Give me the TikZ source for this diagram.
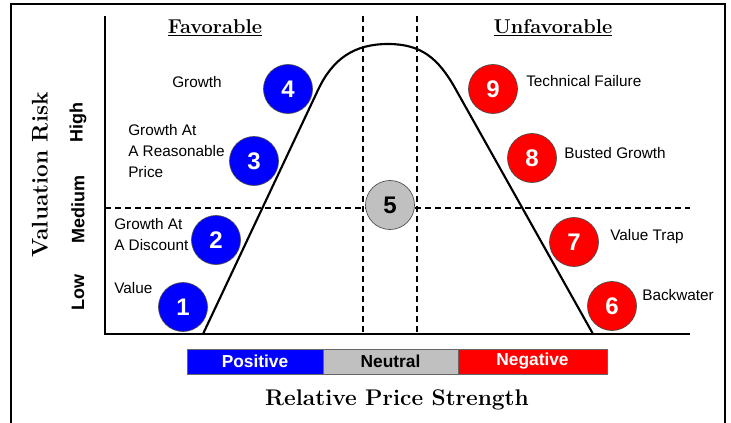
\documentclass[tikz,border=0pt]{standalone}
\usepackage{fontspec}
\newfontfamily\arialfont{Liberation Sans}
\usepackage{tikz}
\definecolor{favblue}{RGB}{0,0,255}
\definecolor{unfavred}{RGB}{255,0,0}
\definecolor{neutralgray}{RGB}{192,192,192}

\begin{document}
\begin{tikzpicture}[x=0.75pt,y=0.75pt,yscale=-1,xscale=1,
  stage/.style={circle,draw=black!70,line width=0.5pt,minimum size=36.75pt,inner sep=0pt,
    font=\arialfont\bfseries\fontsize{18}{18}\selectfont,text=white},
  stagelabel/.style={anchor=west,inner sep=0pt,align=left,
    font=\arialfont\fontsize{11.5}{15.75}\selectfont},
  risklevel/.style={rotate=90,inner sep=0pt,font=\arialfont\bfseries\fontsize{13.5}{13.5}\selectfont},
  heading/.style={inner sep=0pt,font=\bfseries\fontsize{15}{15}\selectfont},
  axistitle/.style={inner sep=0pt,font=\bfseries\fontsize{17}{17}\selectfont},
  strength/.style={draw=black!60,line width=0.5pt,minimum width=102pt,minimum height=18.75pt,
    inner sep=0pt,font=\arialfont\bfseries\fontsize{13}{13}\selectfont},
  divider/.style={line width=1.1pt,dash pattern=on 4.5pt off 3pt}]
\useasboundingbox (0,0) rectangle (731,422);

%Shape: Frame
\draw [line width=1.5pt] (11,430) -- (11,3.5) -- (725,3.5) -- (725,430) ;

%Shape: Axes
\draw [line width=1pt] (105,16) -- (105,334) -- (690,334) ;

%Dashed dividers
\draw [divider] (105,208) -- (690,208) ;
\draw [divider] (363,16) -- (363,334) ;
\draw [divider] (417,16) -- (417,334) ;

%Curve Lines
\draw [line width=1.6pt,line join=round] (203,334) -- (318,90) .. controls (333,58) and (355,44) .. (388,44) .. controls (421,44) and (438,58) .. (455,88) -- (593,334) ;

% Stage circles
\node [stage,fill=favblue] (s1) at (183,307) {1};
\node [stage,fill=favblue] (s2) at (216,240) {2};
\node [stage,fill=favblue] (s3) at (254,161) {3};
\node [stage,fill=favblue] (s4) at (288,89) {4};
\node [stage,fill=neutralgray,text=black] (s5) at (390,205) {5};
\node [stage,fill=unfavred] (s6) at (612,306) {6};
\node [stage,fill=unfavred] (s7) at (574,242) {7};
\node [stage,fill=unfavred] (s8) at (532,158) {8};
\node [stage,fill=unfavred] (s9) at (493,89) {9};

% Text Node
\node [stagelabel] (value) at (114,288) {Value};
\node [stagelabel] (discount) at (114,234.5) {Growth At\\A Discount};
\node [stagelabel] (garp) at (128,151) {Growth At\\A Reasonable\\Price};
\node [stagelabel] (growth) at (172,82) {Growth};
\node [stagelabel] (failure) at (526,81) {Technical Failure};
\node [stagelabel] (busted) at (564,153) {Busted Growth};
\node [stagelabel] (trap) at (610,237) {Value Trap};
\node [stagelabel] (backwater) at (642,295) {Backwater};

% Text Node
\node [heading] (fav) at (215,28) {\underline{Favorable}};
\node [heading] (unfav) at (553,28) {\underline{Unfavorable}};
\node [axistitle,rotate=90] (risk) at (40,175) {Valuation Risk};
\node [axistitle] (price) at (397,400) {Relative Price Strength};
\node [risklevel] (high) at (78,122) {High};
\node [risklevel] (medium) at (78,209) {Medium};
\node [risklevel] (low) at (78,292) {Low};

% Strength bar
\node [strength,fill=favblue,text=white] (positive) at (255,361.5) {Positive};
\node [strength,fill=neutralgray,minimum width=101.25pt] (neutral) at (390.5,361.5) {Neutral};
\node [strength,fill=unfavred,text=white,minimum width=111.75pt] (negative) at (532.5,361.5) {Negative};
\end{tikzpicture}
\end{document}
